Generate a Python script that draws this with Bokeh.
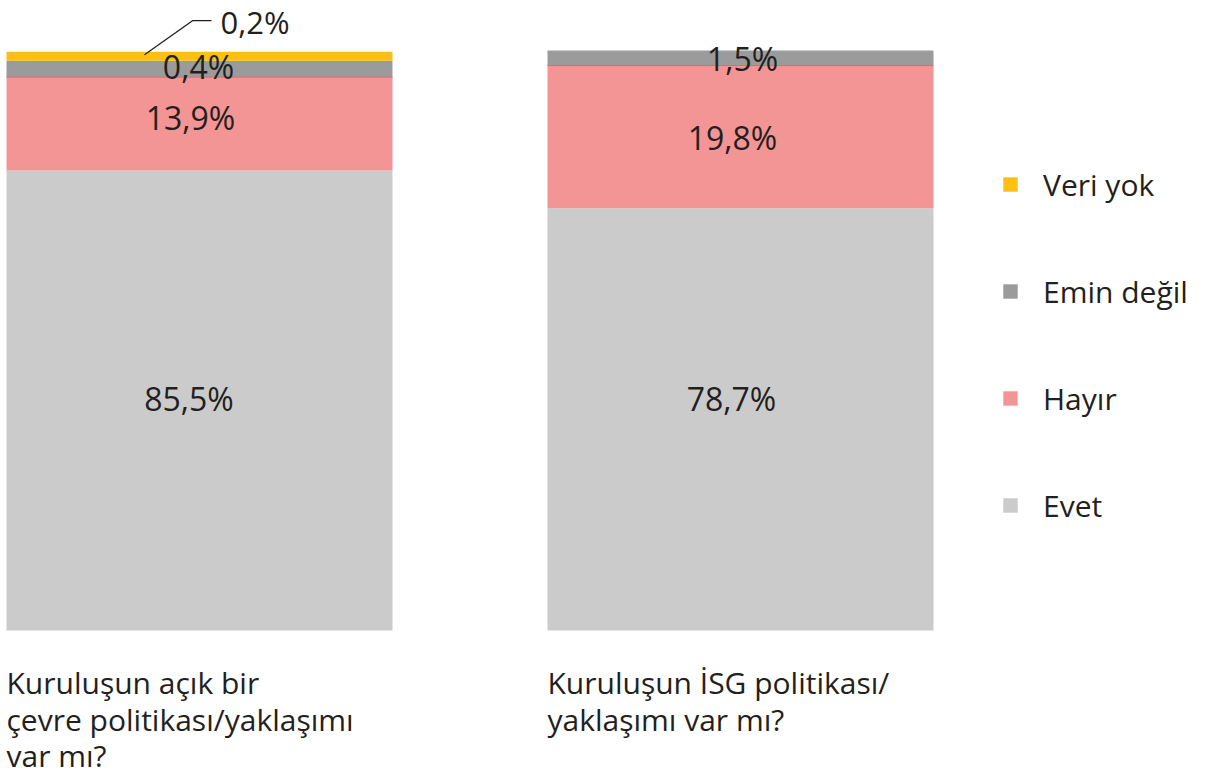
from bokeh.plotting import figure
from bokeh.models import Range1d, Legend, LegendItem, ColumnDataSource
from bokeh.core.properties import value
from bokeh.embed import file_html
from bokeh.resources import INLINE

# ---------------- data ----------------
questions = [
    ["Kuruluşun açık bir", "çevre politikası/yaklaşımı", "var mı?"],
    ["Kuruluşun İSG politikası/", "yaklaşımı var mı?"],
]
answers = ["Evet", "Hayır", "Emin değil", "Veri yok"]
# segment heights as drawn in the picture (share of the bar height)
evet = [79.3, 72.8]
hayir = [16.1, 24.6]
emin = [2.85, 2.6]
veri_yok = [1.55, 0.0]
# printed value labels
evet_lbl = ["85,5%", "78,7%"]
hayir_lbl = ["13,9%", "19,8%"]
emin_lbl = ["0,4%", "1,5%"]
veri_yok_lbl = ["0,2%", ""]

colors = ["#CBCBCB", "#F49595", "#9B9B9B", "#FCBF12"]
TXT = "#231F20"
FONT = "Open Sans"

W, H = 1200, 776
PX_PER_X = 541.0
PX_PER_Y = 5.8
x0 = -199.0 / PX_PER_X
y0 = -(H - 630.0) / PX_PER_Y
BAR_W = 386.0 / PX_PER_X

p = figure(width=W, height=H, output_backend="svg", toolbar_location=None,
           x_range=Range1d(x0, x0 + W / PX_PER_X), y_range=Range1d(y0, y0 + H / PX_PER_Y),
           min_border=0, outline_line_color=None)
p.axis.visible = False
p.grid.visible = False
p.background_fill_color = None
p.border_fill_color = None

xs = list(range(len(evet)))
src = ColumnDataSource(dict(x=xs, evet=evet, hayir=hayir, emin=emin, veri=veri_yok))
keys = ["evet", "hayir", "emin", "veri"]
rends = p.vbar_stack(keys, x="x", width=BAR_W, source=src, color=colors, line_color=None)

# thin darker edge on top of the "Hayır" segments
p.segment(x0=[i - BAR_W / 2 for i in xs], x1=[i + BAR_W / 2 for i in xs],
          y0=[evet[i] + hayir[i] for i in xs], y1=[evet[i] + hayir[i] for i in xs],
          line_color="#D86A6C", line_width=1)

# value labels
series = [evet, hayir, emin, veri_yok]
labels = [evet_lbl, hayir_lbl, emin_lbl, veri_yok_lbl]
# small nudges (screen px) to match label placement
nudge_x = [[-10.5, -9], [-9, -8], [-1, 2], [0, 0]]
nudge_y = [[-2, -21], [-6, 1], [-2, 0.5], [0, 0]]
lx, ly, lt, ox, oy = [], [], [], [], []
for i in xs:
    base = 0.0
    for j, s in enumerate(series):
        h = s[i]
        if labels[j][i] and j < 3:
            lx.append(i)
            ly.append(base + h / 2)
            lt.append(labels[j][i])
            ox.append(nudge_x[j][i])
            oy.append(nudge_y[j][i])
        base += h
p.text(x=lx, y=ly, text=lt, x_offset=ox, y_offset=oy, text_align="center",
       text_baseline="middle", text_font=value(FONT), text_font_size="32px", text_color=TXT)

# external label for the thin "Veri yok" slice with a leader line
top1 = sum(s[0] for s in series)
lead_x = [0 - 55 / PX_PER_X, 0 - 7 / PX_PER_X, 0 + 12 / PX_PER_X]
lead_y = [top1 - 3 / PX_PER_Y, top1 + 31 / PX_PER_Y, top1 + 31 / PX_PER_Y]
p.line(lead_x, lead_y, line_color=TXT, line_width=1.3)
p.text(x=[0 + 21 / PX_PER_X], y=[top1 + 30 / PX_PER_Y], text=[veri_yok_lbl[0]],
       text_align="left", text_baseline="middle", text_font=value(FONT),
       text_font_size="31px", text_color=TXT)

# category titles below the bars
tx, ty, tt, toy = [], [], [], []
for i, lines in enumerate(questions):
    for k, line in enumerate(lines):
        tx.append(i - BAR_W / 2)
        ty.append(0)
        tt.append(line)
        toy.append(52 + 36.5 * k)
p.text(x=tx, y=ty, text=tt, y_offset=toy, text_align="left", text_baseline="alphabetic",
       text_font=value(FONT), text_font_size="30px", text_color=TXT)

# legend
items = [LegendItem(label=answers[j], renderers=[rends[j]]) for j in range(3, -1, -1)]
legend = Legend(items=items, location=(1001, H - 152 - 383), orientation="vertical",
                glyph_width=18, glyph_height=18, label_height=60, spacing=47,
                label_standoff=24, padding=0, margin=0, border_line_color=None,
                background_fill_alpha=0, label_text_font=FONT,
                label_text_font_size="30px", label_text_color=TXT)
p.add_layout(legend)

open("out.html", "w").write(file_html(p, INLINE))
